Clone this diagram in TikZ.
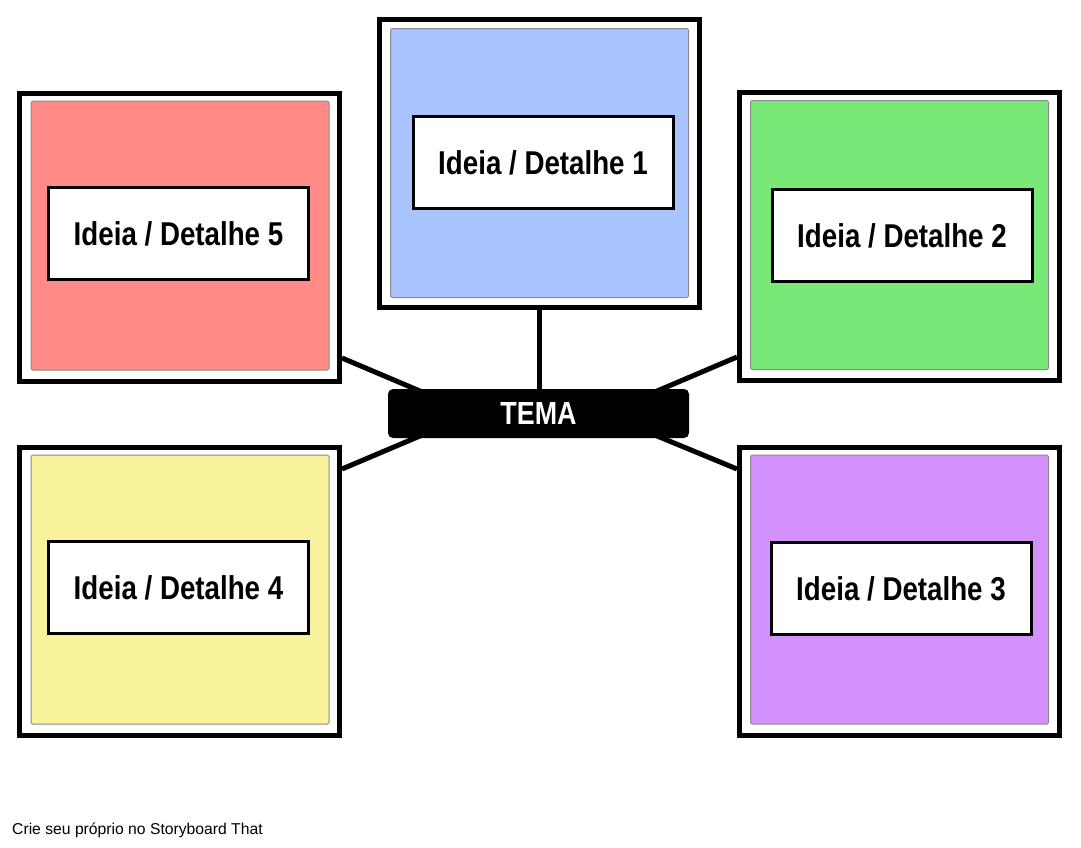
\documentclass[tikz,border=0pt]{standalone}
\usepackage{fontspec}
\usetikzlibrary{backgrounds}
\newfontfamily\lblfont{Liberation Sans Bold}[FakeStretch=0.84]
\newfontfamily\footfont{Liberation Sans}
\definecolor{cred}{HTML}{FF8A86}
\definecolor{cblue}{HTML}{A9C3FE}
\definecolor{cgreen}{HTML}{78E978}
\definecolor{cyellow}{HTML}{FAF39E}
\definecolor{cpurple}{HTML}{D291FC}
\definecolor{cgray}{HTML}{8A8A8A}
\tikzset{
  frame/.style={draw=black, fill=white, line width=5pt, minimum width=320pt, minimum height=288pt, inner sep=0pt},
  panel/.style={draw=cgray, line width=1pt, rounded corners=1.5pt, fill=#1, minimum width=298pt, minimum height=269pt, inner sep=0pt},
  lblbox/.style={draw=black, fill=white, line width=3pt, minimum width=260pt, minimum height=92pt, inner sep=0pt,
    font=\lblfont\fontsize{33}{36}\selectfont},
  temabox/.style={fill=black, rounded corners=5pt, minimum width=301pt, minimum height=49pt, inner sep=0pt,
    text=white, font=\lblfont\fontsize{32}{36}\selectfont},
  conn/.style={draw=black, line width=5pt}
}
\begin{document}
\begin{tikzpicture}[x=1pt,y=-1pt]
\useasboundingbox (0,0) rectangle (1081,847);
% outer frames
\node[frame] (f5) at (179.5,237) {};
\node[frame] (f1) at (539.5,163.5) {};
\node[frame] (f2) at (899.5,236.5) {};
\node[frame] (f4) at (179.5,591) {};
\node[frame] (f3) at (899.5,591) {};
% coloured panels
\node[panel=cred] (p5) at (180,235.5) {};
\node[panel=cblue] (p1) at (539.5,163) {};
\node[panel=cgreen] (p2) at (899.5,235) {};
\node[panel=cyellow] (p4) at (180,589.5) {};
\node[panel=cpurple] (p3) at (899.5,589.5) {};
% labels
\node[lblbox] (l5) at (178.5,233.5) {Ideia / Detalhe 5};
\node[lblbox] (l1) at (543,162.5) {Ideia / Detalhe 1};
\node[lblbox] (l2) at (902,235.5) {Ideia / Detalhe 2};
\node[lblbox] (l4) at (178.5,587.5) {Ideia / Detalhe 4};
\node[lblbox] (l3) at (901,588.5) {Ideia / Detalhe 3};
% theme
\node[temabox] (tema) at (538.5,413.5) {TEMA};
% connectors
\begin{pgfonlayer}{background}
\draw[conn] (f1.south) -- (f1.south |- tema.north);
\draw[conn] ([yshift=-121pt]f5.east) -- ([xshift=34pt,yshift=-3pt]tema.north west);
\draw[conn] ([yshift=-120.5pt]f2.west) -- ([xshift=-34pt,yshift=-3pt]tema.north east);
\draw[conn] ([yshift=122pt]f4.east) -- ([xshift=34pt,yshift=3pt]tema.south west);
\draw[conn] ([yshift=122pt]f3.west) -- ([xshift=-34pt,yshift=3pt]tema.south east);
\end{pgfonlayer}
% footer
\node[anchor=base west, inner sep=0pt, font=\footfont\fontsize{15.7}{18}\selectfont] (foot) at (12,834) {Crie seu próprio no Storyboard That};
\end{tikzpicture}
\end{document}
